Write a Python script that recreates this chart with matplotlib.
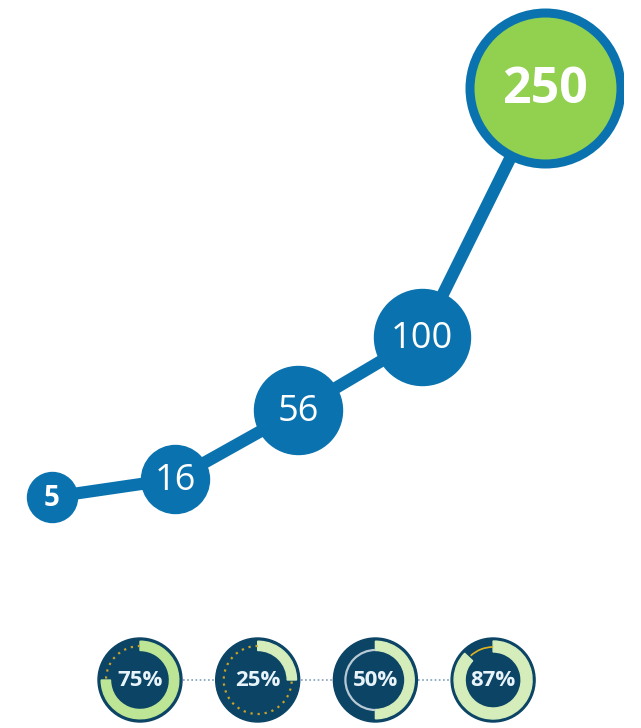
import numpy as np
import matplotlib.pyplot as plt
from matplotlib.patches import Wedge, Circle, Arc

# data
labels = ['5', '16', '56', '100', '250']
heights = [231, 249, 318, 391, 640]   # vertical placement of each node
pcts = [75, 25, 50, 87]

BLUE = '#0a73af'
GREEN = '#92d050'
NAVY = '#0b4465'
GOLD = '#c9a227'

plt.rcParams['font.family'] = ['Open Sans', 'DejaVu Sans']

fig = plt.figure(figsize=(6.41, 7.28), dpi=100)

# ---- growth line ----
ax = fig.add_axes([0, 0, 623 / 641, 1])
ax.axis('off')
xs = np.arange(len(labels))
step = 123.25
ax.set_xlim(-52 / step, (623 - 52) / step)
ax.set_ylim(0, 728)

ax.plot(xs, heights, color=BLUE, lw=8.8, solid_capstyle='round', zorder=1)

radii = [25, 34, 44, 48, 80]   # marker radii in px
for i, (x, y, lab) in enumerate(zip(xs, heights, labels)):
    last = i == len(labels) - 1
    d = 2 * radii[i] * 0.72
    if last:
        ax.scatter([x], [y], s=(d - 6.5) ** 2, color=GREEN, edgecolors=BLUE,
                   linewidths=6.5, zorder=2)
    else:
        ax.scatter([x], [y], s=d ** 2, color=BLUE, zorder=2)
    bold = i == 0 or last
    size = [20, 26, 26, 26, 36][i]
    ax.text(x, y - 2, lab, color='white', ha='center', va='center',
            fontsize=size, fontweight='bold' if bold else 'normal', zorder=3)

# ---- percentage donuts ----
ax2 = fig.add_axes([0, 0, 1, 98 / 728])
ax2.axis('off')
ax2.set_xlim(0, 641)
ax2.set_ylim(0, 98)
ax2.set_aspect('equal')

cy = 48
centers = [140 + 117.7 * i for i in range(len(pcts))]
for i in range(len(centers) - 1):
    ax2.plot([centers[i] + 43, centers[i + 1] - 43], [cy, cy], ls=(0, (1, 1.5)),
             color='#7fa0b8', lw=1.2, zorder=0)

ring_col = ['#bde596', '#d4edbb', '#d4edbb', '#d4edbb']
for i, (cx, p) in enumerate(zip(centers, pcts)):
    ax2.add_patch(Circle((cx, cy), 42, color=NAVY, zorder=1))
    a0 = 90 - 360 * p / 100
    r_out, w = (38.8, 9.3) if i != 3 else (39, 11)
    ax2.add_patch(Wedge((cx, cy), r_out, a0, 90, width=w, color=ring_col[i], zorder=2))
    rest = (90, a0 + 360)
    if i in (0, 1):
        ax2.add_patch(Arc((cx, cy), 68, 68, theta1=rest[0], theta2=rest[1],
                          color=GOLD, lw=1.6, ls=(0, (1, 2.2)), zorder=2))
    elif i == 2:
        ax2.add_patch(Arc((cx, cy), 60, 60, theta1=rest[0], theta2=rest[1],
                          color='#b9cad6', lw=1.6, zorder=2))
    else:
        ax2.add_patch(Arc((cx, cy), 66, 66, theta1=rest[0], theta2=rest[1] - 4,
                          color='#e0b420', lw=1.2, zorder=2))
    ax2.text(cx, cy - 1, f'{p}%', color='#e8f4fa', ha='center', va='center',
             fontsize=16, fontweight='bold', zorder=3)

fig.savefig('out.png', dpi=100, facecolor='white')
